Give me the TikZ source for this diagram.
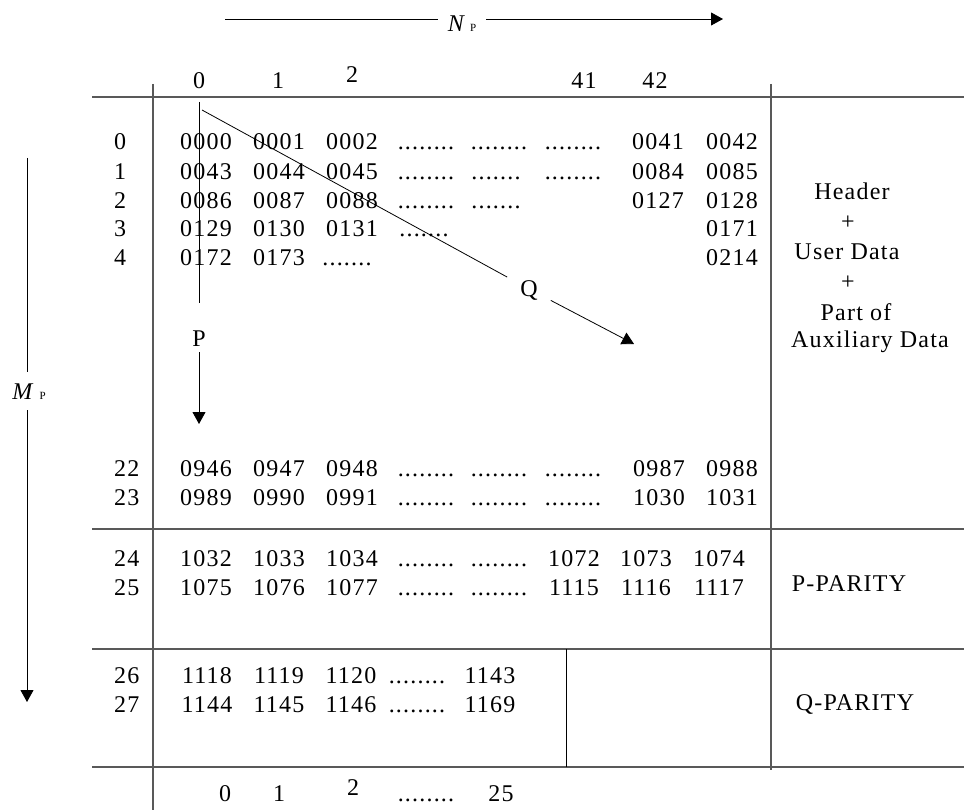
\documentclass[tikz,border=0pt]{standalone}
\usepackage{fontspec}
\setmainfont{Liberation Serif}[LetterSpace=5]
\usetikzlibrary{arrows.meta}

\newcommand{\dotrun}{........}
\newcommand{\dotrunb}{.......}

\tikzset{
  cell/.style={font=\fontsize{24}{28}\selectfont, inner sep=0pt, text height=16pt, text depth=0pt},
  rowlab/.style={cell, anchor=west},
  lbl/.style={cell, inner sep=10pt},
  grid/.style={line width=1.1pt, black!65},
  arr/.style={line width=0.8pt, -{Triangle[width=13pt,length=12pt]}}
}

\begin{document}
\begin{tikzpicture}[x=1pt,y=-1pt]
  \useasboundingbox (0,0) rectangle (964,810);

  \draw[grid] (92,97) -- (964,97);
  \draw[grid] (92,529) -- (964,529);
  \draw[grid] (92,649) -- (964,649);
  \draw[grid] (92,767) -- (964,767);
  \draw[grid] (153,84) -- (153,810);
  \draw[grid] (771,84) -- (771,770);
  \draw[line width=0.9pt] (566,649) -- (566,767);

  \coordinate (nbeg) at (225,19);
  \coordinate (nend) at (723,19);
  \node[lbl] (np) at (462,24) {\textit{N}\,{\fontsize{11}{11}\selectfont P}};
  \draw[line width=0.8pt] (nbeg) -- (nbeg -| np.west);
  \draw[arr] (nend -| np.east) -- (nend);

  \coordinate (mbeg) at (27,158);
  \coordinate (mend) at (27,702);
  \node[lbl, inner sep=11pt] (mp) at (29,391) {\textit{M}\hspace{5pt}{\fontsize{11}{11}\selectfont P}};
  \draw[line width=0.8pt] (mbeg) -- (mbeg |- mp.north);
  \draw[arr] (mend |- mp.south) -- (mend);

  \coordinate (pbeg) at (199,102);
  \coordinate (pend) at (199,424);
  \node[lbl, inner sep=6pt] (pl) at (199,338) {P};
  \draw[line width=0.8pt, shorten >=21pt] (pbeg) -- (pl);
  \draw[arr] (pl) -- (pend);

  \coordinate (qbeg) at (202,110);
  \coordinate (qend) at (634,344);
  \node[lbl, inner sep=13pt] (ql) at (529,289) {Q};
  \draw[line width=0.8pt] (qbeg) -- (ql);
  \draw[arr] (ql) -- (qend);

  \foreach \x/\y/\t [count=\i] in {199/81/0,278/81/1,352/75/2,584/81/41,655/81/42}
    \node[cell] (top\i) at (\x,\y) {\t};
  \foreach \x/\y/\t [count=\i] in {225/793/0,279/793/1,353/787/2,426/793/\dotrun,501/793/25}
    \node[cell] (bot\i) at (\x,\y) {\t};

  \foreach \y/\t in {142/0,172/1,201/2,229/3,258/4,468/22,497/23,558/24,587/25,675/26,704/27}
    \node[rowlab] (m\t) at (114,\y) {\t};

  \foreach \x/\t [count=\i] in {206/0000,279/0001,352/0002,426/\dotrun,499/\dotrun,573/\dotrun,658/0041,732/0042}
    \node[cell] (a\i) at (\x,142) {\t};
  \foreach \x/\t [count=\i] in {206/0043,279/0044,352/0045,426/\dotrun,496/\dotrunb,573/\dotrun,658/0084,732/0085}
    \node[cell] (b\i) at (\x,172) {\t};
  \foreach \x/\t [count=\i] in {206/0086,279/0087,352/0088,426/\dotrun,496/\dotrunb,658/0127,732/0128}
    \node[cell] (c\i) at (\x,201) {\t};
  \foreach \x/\t [count=\i] in {206/0129,279/0130,352/0131,424/\dotrunb,732/0171}
    \node[cell] (d\i) at (\x,229) {\t};
  \foreach \x/\t [count=\i] in {206/0172,279/0173,347/\dotrunb,732/0214}
    \node[cell] (e\i) at (\x,258) {\t};

  \foreach \x/\t [count=\i] in {206/0946,279/0947,352/0948,426/\dotrun,499/\dotrun,573/\dotrun,659/0987,732/0988}
    \node[cell] (f\i) at (\x,468) {\t};
  \foreach \x/\t [count=\i] in {206/0989,279/0990,352/0991,426/\dotrun,499/\dotrun,573/\dotrun,659/1030,732/1031}
    \node[cell] (g\i) at (\x,497) {\t};

  \foreach \x/\t [count=\i] in {206/1032,279/1033,352/1034,426/\dotrun,499/\dotrun,574/1072,646/1073,719/1074}
    \node[cell] (h\i) at (\x,558) {\t};
  \foreach \x/\t [count=\i] in {206/1075,279/1076,352/1077,426/\dotrun,499/\dotrun,574/1115,646/1116,719/1117}
    \node[cell] (k\i) at (\x,587) {\t};

  \foreach \x/\t [count=\i] in {207/1118,279/1119,351/1120,417/\dotrun,490/1143}
    \node[cell] (s\i) at (\x,675) {\t};
  \foreach \x/\t [count=\i] in {207/1144,279/1145,351/1146,417/\dotrun,490/1169}
    \node[cell] (t\i) at (\x,704) {\t};

  \foreach \x/\y/\t [count=\i] in {852/192/Header,848/222/+,847/252/User Data,848/282/+,856/312/Part of,870/340/Auxiliary Data}
    \node[cell] (hd\i) at (\x,\y) {\t};
  \node[cell] (pp) at (849,583) {P-PARITY};
  \node[cell] (qp) at (855,702) {Q-PARITY};
\end{tikzpicture}
\end{document}
